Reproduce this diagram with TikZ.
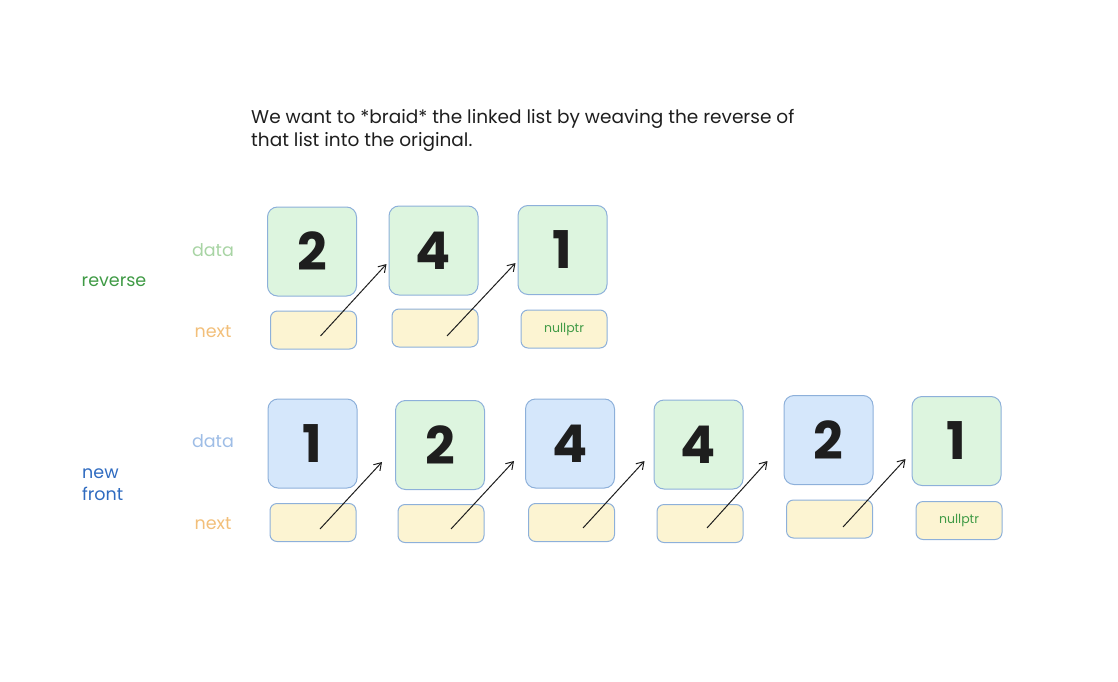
\documentclass[tikz,border=0pt]{standalone}
\usepackage{fontspec}
\setmainfont{Poppins}
\usetikzlibrary{arrows.meta}
\definecolor{boxstroke}{HTML}{8DB0DA}
\definecolor{greenfill}{HTML}{DDF5DF}
\definecolor{bluefill}{HTML}{D5E7FB}
\definecolor{yellowfill}{HTML}{FCF4D2}
\definecolor{datagreen}{HTML}{A8D4A4}
\definecolor{darkgreen}{HTML}{3F9A45}
\definecolor{nextorange}{HTML}{F2BF7A}
\definecolor{datablue}{HTML}{9EBDE6}
\definecolor{darkblue}{HTML}{2F6BC0}
\definecolor{ink}{HTML}{1E1E1E}
\tikzset{
  databox/.style={draw=boxstroke, line width=1pt, rounded corners=10pt,
    minimum width=89pt, minimum height=89pt, inner sep=0pt, text=ink,
    font=\fontsize{52}{52}\selectfont\bfseries},
  gbox/.style={databox, fill=greenfill},
  bbox/.style={databox, fill=bluefill},
  nextbox/.style={draw=boxstroke, line width=1pt, rounded corners=7pt, fill=yellowfill,
    minimum width=86pt, minimum height=38pt, inner sep=0pt,
    font=\fontsize{12.5}{12.5}\selectfont, text=darkgreen},
  lbl/.style={font=\fontsize{17.5}{22}\selectfont, inner sep=0pt},
  ptr/.style={draw=ink, line width=1pt, -{Straight Barb[length=7pt,width=9pt]}}
}
\begin{document}
\begin{tikzpicture}[x=1pt,y=-1pt]
\useasboundingbox (0,0) rectangle (1118,682);

\node[anchor=north west, align=left, text=ink, inner sep=0pt,
  font=\fontsize{18.5}{23}\selectfont] (title) at (251,109)
  {We want to *braid* the linked list by weaving the reverse of\\that list into the original.};

% reverse row
\node[lbl, text=datagreen] (dlr) at (213,250) {data};
\node[lbl, text=darkgreen] (rev) at (114,282) {reverse};
\node[lbl, text=nextorange] (nlr) at (213,332) {next};

\node[gbox] (r1) at (312,251.5) {2};
\node[gbox] (r2) at (433.5,250.5) {4};
\node[gbox] (r3) at (562.5,250) {1};
\node[nextbox] (rn1) at (313.5,330) {};
\node[nextbox] (rn2) at (435,328) {};
\node[nextbox] (rn3) at (564,329) {nullptr};

\draw[ptr] ([shift={(7,6)}]rn1.center) -- ([shift={(-2,13.5)}]r2.west);
\draw[ptr] ([shift={(12,8)}]rn2.center) -- ([shift={(-2,13)}]r3.west);

% new front row
\node[lbl, text=datablue] (dlf) at (213,441) {data};
\node[lbl, text=darkblue, align=left, anchor=west] (nf) at (82,485) {new\\front};
\node[lbl, text=nextorange] (nlf) at (213,524) {next};

\node[bbox] (f1) at (312.5,443.5) {1};
\node[gbox] (f2) at (440,445) {2};
\node[bbox] (f3) at (570,443.5) {4};
\node[gbox] (f4) at (698.5,444.5) {4};
\node[bbox] (f5) at (828.5,440) {2};
\node[gbox] (f6) at (956.5,441) {1};

\node[nextbox] (fn1) at (313,522.5) {};
\node[nextbox] (fn2) at (441,523.5) {};
\node[nextbox] (fn3) at (571.5,522.5) {};
\node[nextbox] (fn4) at (700,523.5) {};
\node[nextbox] (fn5) at (829.5,519) {};
\node[nextbox] (fn6) at (959,520.5) {nullptr};

\draw[ptr] ([shift={(7,6.5)}]fn1.center) -- ([shift={(-13,17)}]f2.west);
\draw[ptr] ([shift={(10,5.5)}]fn2.center) -- ([shift={(-11,17.5)}]f3.west);
\draw[ptr] ([shift={(11.5,5.5)}]fn3.center) -- ([shift={(-9,16.5)}]f4.west);
\draw[ptr] ([shift={(7,4.5)}]fn4.center) -- ([shift={(-16,21)}]f5.west);
\draw[ptr] ([shift={(13.5,8)}]fn5.center) -- ([shift={(-6,18)}]f6.west);
\end{tikzpicture}
\end{document}
